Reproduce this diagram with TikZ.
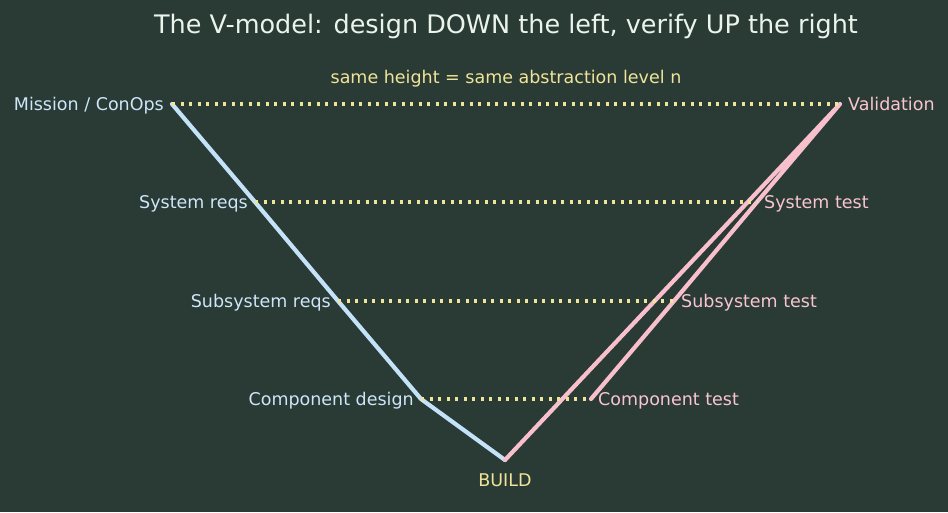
\documentclass[tikz,border=0pt]{standalone}
\usepackage{fontspec}
\setmainfont{DejaVu Sans}
\usetikzlibrary{positioning}
\definecolor{bgSlate}{HTML}{2A3A34}
\definecolor{designBlue}{HTML}{C4E2F8}
\definecolor{verifyPink}{HTML}{F8BFCD}
\definecolor{levelKhaki}{HTML}{F0E49A}
\definecolor{titleWhite}{HTML}{EAF4EC}
\tikzset{
    lbl_design/.style={
        inner sep=0pt, text height=12.8pt, text depth=0pt,
        text=designBlue!85!white, font=\fontsize{17.5}{20}\selectfont
    },
    lbl_verify/.style={
        inner sep=0pt, text height=12.8pt, text depth=0pt,
        text=verifyPink!90!white, font=\fontsize{17.5}{20}\selectfont
    },
    leg_design/.style={
        draw=designBlue, line width=4.2pt, line join=round, line cap=round
    },
    leg_verify/.style={
        draw=verifyPink, line width=4.2pt, line join=round, line cap=round
    },
    level_link/.style={
        draw=levelKhaki, line width=3.4pt, dash pattern=on 3.2pt off 5.3pt
    }
}

\begin{document}
\begin{tikzpicture}[x=1pt, y=-1pt]
    % Canvas
    \fill[bgSlate] (0,0) rectangle (948,512);
    \useasboundingbox (0,0) rectangle (948,512);

    % Heading
    \node[anchor=base, inner sep=0pt, text=titleWhite, font=\fontsize{25.5}{30}\selectfont] (title) at (506,33)
        {The V-model: design DOWN the left, verify UP the right};
    \node[anchor=base, inner sep=0pt, text=levelKhaki, font=\fontsize{17.5}{20}\selectfont] (note) at (506,83)
        {same height = same abstraction level n};

    % Left leg (design)
    \coordinate (mission) at (172,104);
    \coordinate (sysreq) at (255,202);
    \coordinate (subreq) at (338,301);
    \coordinate (compdes) at (421,399);

    % Bottom
    \coordinate (build) at (505,460);

    % Right leg (verification)
    \coordinate (valid) at (840,104);
    \coordinate (systest) at (757,202);
    \coordinate (subtest) at (674,301);
    \coordinate (comptest) at (591,399);

    % Legs of the V
    \draw[leg_design] (mission) -- (sysreq) -- (subreq) -- (compdes) -- (build);
    \draw[leg_verify] (build) -- (valid) -- (systest) -- (subtest) -- (comptest);

    % Same abstraction level
    \draw[level_link] (mission) -- (valid);
    \draw[level_link] (sysreq) -- (systest);
    \draw[level_link] (subreq) -- (subtest);
    \draw[level_link] (compdes) -- (comptest);

    % Labels
    \node[lbl_design, left=8pt of mission] (l_mission) {Mission / ConOps};
    \node[lbl_design, left=7pt of sysreq] (l_sysreq) {System reqs};
    \node[lbl_design, left=7pt of subreq] (l_subreq) {Subsystem reqs};
    \node[lbl_design, left=7pt of compdes] (l_compdes) {Component design};

    \node[lbl_verify, right=8pt of valid] (l_valid) {Validation};
    \node[lbl_verify, right=7pt of systest] (l_systest) {System test};
    \node[lbl_verify, right=7pt of subtest] (l_subtest) {Subsystem test};
    \node[lbl_verify, right=7pt of comptest] (l_comptest) {Component test};

    \node[inner sep=0pt, text height=12.8pt, text depth=0pt, text=levelKhaki, font=\fontsize{17.5}{20}\selectfont, below=13pt of build] (l_build) {BUILD};
\end{tikzpicture}
\end{document}
